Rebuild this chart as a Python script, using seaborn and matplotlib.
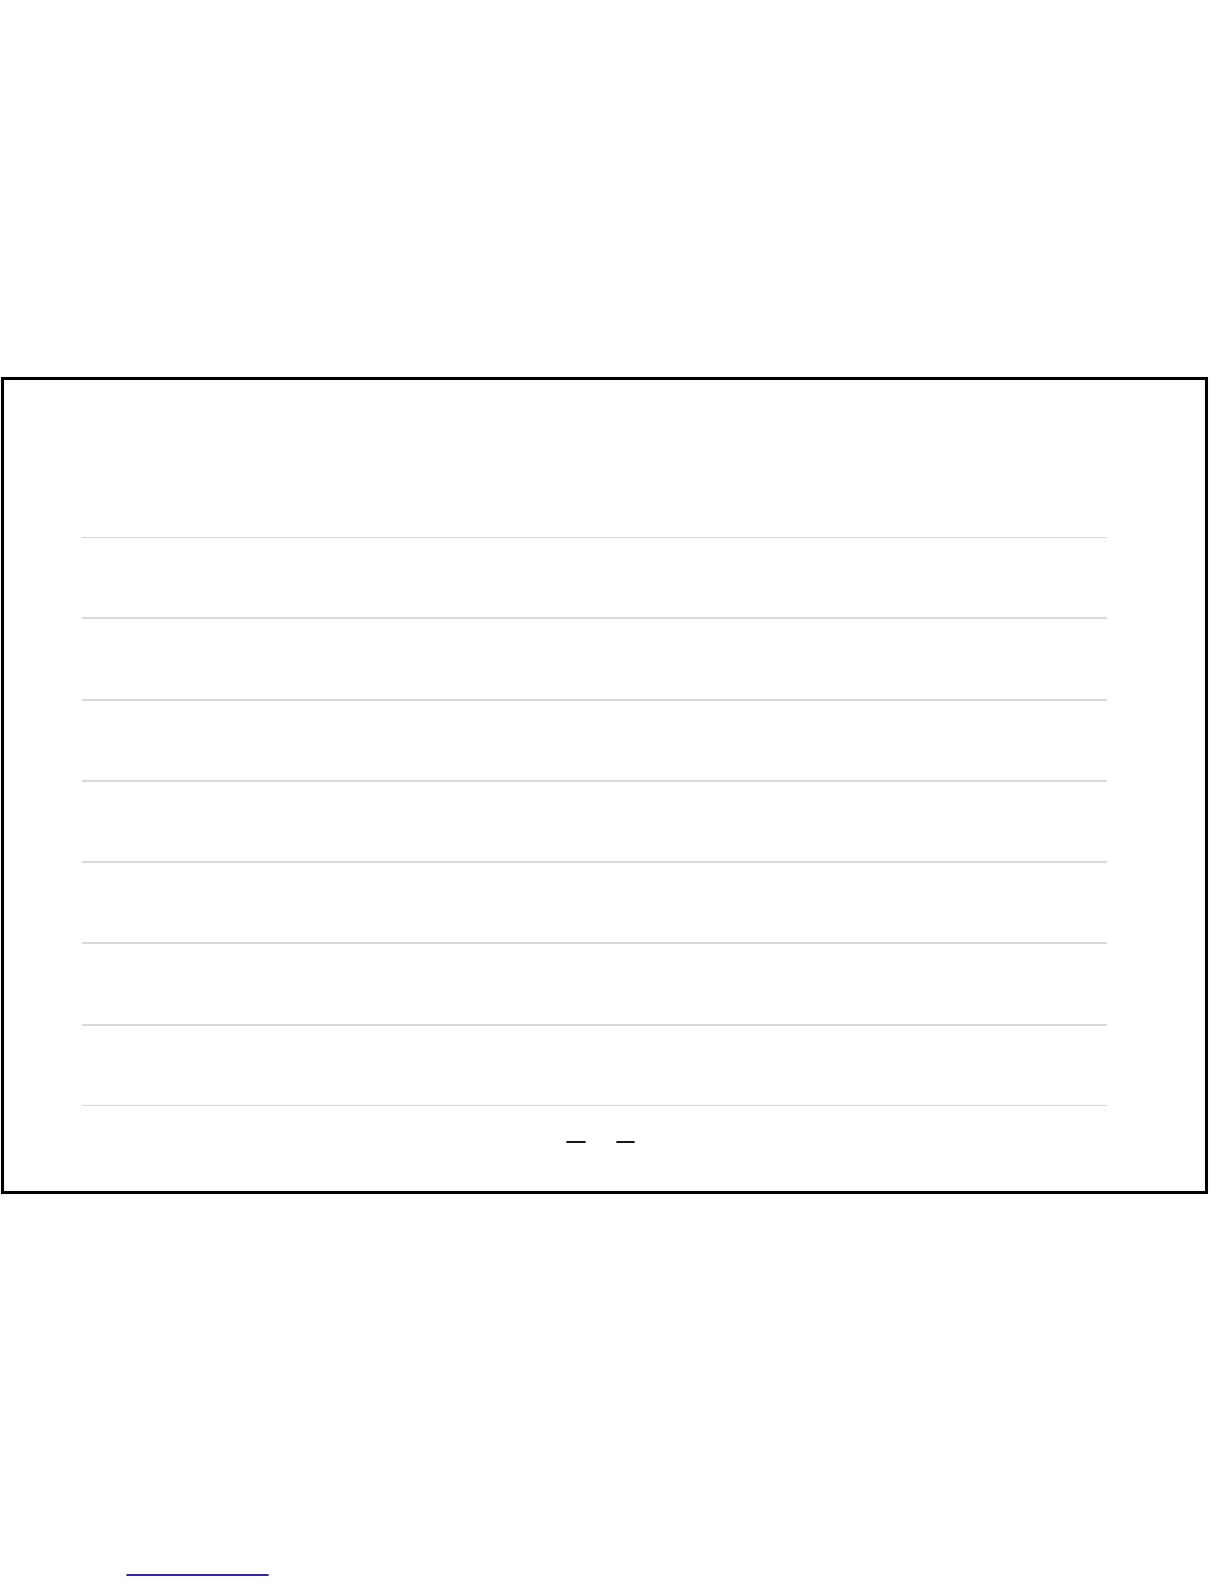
import matplotlib
matplotlib.use("Agg")
import matplotlib.pyplot as plt
from matplotlib.lines import Line2D
from matplotlib.patches import Rectangle
import seaborn as sns

# Chart data: the reference shows only an empty grid and a two-entry legend
y_ticks = [0, 1, 2, 3, 4, 5, 6, 7]
series_labels = [" ", " "]
series_colors = ["black", "black"]

sns.set_style("white")
plt.rcParams['font.family'] = ['DejaVu Sans']

fig = plt.figure(figsize=(12.24, 15.84), dpi=100)
ax = fig.add_axes([82 / 1224, 1 - 1106 / 1584, (1107 - 82) / 1224, (1106 - 537) / 1584])

ax.set_ylim(y_ticks[0], y_ticks[-1])
ax.set_xlim(0, 1)
ax.set_yticks(y_ticks)
ax.set_xticks([])
ax.yaxis.grid(True, color="#d9d9d9", linewidth=1.5)
ax.tick_params(axis="y", length=0, labelleft=False)
sns.despine(ax=ax, left=True, bottom=True)

# Legend with line handles only
handles = [Line2D([], [], color=c, linewidth=1.3) for c in series_colors]
fig.legend(handles, series_labels, loc="center", bbox_to_anchor=(607 / 1224, 1 - 1143 / 1584),
           ncol=2, frameon=False, handlelength=1.25, handletextpad=0.6, columnspacing=1.4)

# Outer frame around the chart
fig.add_artist(Rectangle((2 / 1224, 1 - 1192 / 1584), 1204 / 1224, (1192 - 378) / 1584,
                         transform=fig.transFigure, fill=False, edgecolor="black", linewidth=2.2))

# Link underline below the chart
fig.add_artist(Line2D([127 / 1224, 268 / 1224], [1 - 1575 / 1584, 1 - 1575 / 1584],
                      transform=fig.transFigure, color="#0000a0", linewidth=1.2))

fig.savefig("out.png", dpi=100, facecolor="white")
